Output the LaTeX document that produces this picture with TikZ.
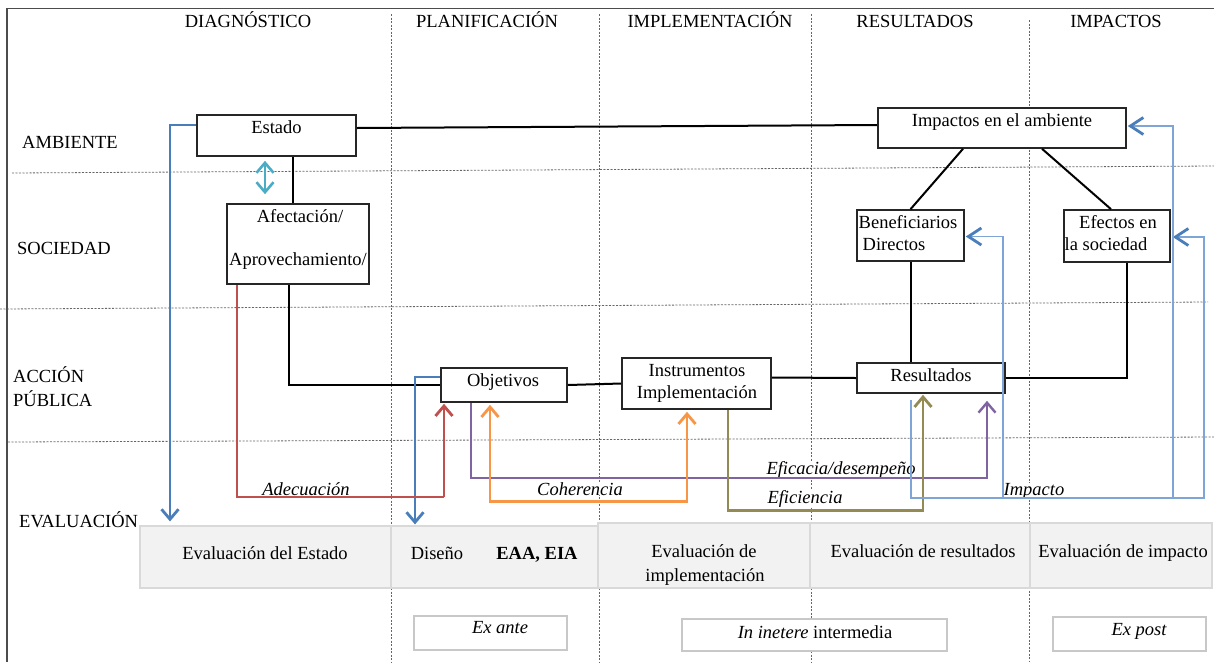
\documentclass[tikz,border=0pt]{standalone}
\usepackage{fontspec}
\setmainfont{Liberation Serif}
\usetikzlibrary{arrows.meta,calc}
\definecolor{cBlue}{HTML}{4A7EBB}
\definecolor{cLight}{HTML}{7FA5D6}
\definecolor{cCyan}{HTML}{4BACC6}
\definecolor{cRed}{HTML}{C0504D}
\definecolor{cOrange}{HTML}{F79646}
\definecolor{cPurple}{HTML}{8064A2}
\definecolor{cOlive}{HTML}{948A54}
\definecolor{bandfill}{HTML}{F2F2F2}
\definecolor{bandline}{HTML}{D9D9D9}
\definecolor{tagline}{HTML}{C8C8C8}
\newcommand\dgfont{\fontsize{18.5}{22}\selectfont}

\begin{document}
\begin{tikzpicture}[x=1pt,y=-1pt,
  txt/.style={font=\dgfont, inner sep=0pt, anchor=base},
  txtw/.style={txt, anchor=base west},
  lbl/.style={txt, font=\dgfont\itshape, fill=white},
  box/.style={draw=black!85, line width=1.6pt, fill=white, inner sep=0pt},
  cell/.style={draw=bandline, line width=1.2pt, fill=bandfill, inner sep=0pt},
  tag/.style={draw=tagline, line width=1.6pt, fill=white, inner sep=0pt},
  sepline/.style={black!60, line width=0.8pt, dash pattern=on 2pt off 1.5pt},
  link/.style={black, line width=2pt},
  barb/.style={-{Straight Barb[length=10pt,width=17pt]}},
  dbarb/.style={{Straight Barb[length=10pt,width=17pt]}-{Straight Barb[length=10pt,width=17pt]}},
  fback/.style={cLight, line width=1.4pt},
  fbarb/.style={-{Straight Barb[length=13pt,width=17pt,line width=2.8pt,color=cBlue]}},
]
\useasboundingbox (0,0) rectangle (1214,662);
\fill[white] (0,0) rectangle (1214,662);

% frame and grid of phases / domains
\draw[black!70, line width=1.6pt] (7,662) -- (7,8.5) -- (1214,8.5);
\draw[sepline] (391,14) -- (391,662);
\draw[sepline] (599,14) -- (599,662);
\draw[sepline] (811,14) -- (811,662);
\draw[sepline] (1029,20) -- (1029,662);
\draw[sepline] (12,173) -- (1214,166);
\draw[sepline] (0,309) -- (1208,302);
\draw[sepline] (8,442) -- (1214,437);

% column headings
\node[txt] (hdiag) at (248,27) {DIAGNÓSTICO};
\node[txt] (hplan) at (487,27) {PLANIFICACIÓN};
\node[txt] (himpl) at (710,27) {IMPLEMENTACIÓN};
\node[txt] (hres)  at (915,27) {RESULTADOS};
\node[txt] (himp)  at (1116,27) {IMPACTOS};

% row headings
\node[txtw] (ramb) at (22,148) {AMBIENTE};
\node[txtw] (rsoc) at (17,254) {SOCIEDAD};
\node[txtw] (racc1) at (13,382) {ACCIÓN};
\node[txtw] (racc2) at (13,406) {PÚBLICA};
\node[txtw] (reval) at (19,527) {EVALUACIÓN};

% evaluation band
\node[cell, minimum width=251pt, minimum height=62pt] (evestado) at (265.5,557) {};
\node[cell, minimum width=207pt, minimum height=62pt] (evdiseno) at (494.5,557) {};
\node[cell, minimum width=212pt, minimum height=65pt] (evimpl) at (704,555.5) {};
\node[cell, minimum width=220pt, minimum height=65pt] (evres) at (920,555.5) {};
\node[cell, minimum width=182pt, minimum height=65pt] (evimp) at (1121,555.5) {};
\node[txt] (tevestado) at (265,559) {Evaluación del Estado};
\node[txt] (tdiseno) at (437,559) {Diseño};
\node[txt] (teaa) at (537,559) {\bfseries EAA, EIA};
\node[txt] (tevimpl1) at (704,557) {Evaluación de};
\node[txt] (tevimpl2) at (705,581) {implementación};
\node[txt] (tevres) at (923,557) {Evaluación de resultados};
\node[txt] (tevimp) at (1123,557) {Evaluación de impacto};

% timing tags
\node[tag, minimum width=153pt, minimum height=34pt] (exante) at (490.5,633) {};
\node[tag, minimum width=265pt, minimum height=32pt] (inter) at (814.5,635) {};
\node[tag, minimum width=153pt, minimum height=34pt] (expost) at (1129.5,634) {};
\node[txt] (texante) at (500,633) {\itshape Ex ante};
\node[txt] (tinter) at (815,638) {\textit{In inetere} intermedia};
\node[txt] (texpost) at (1139,635) {\itshape Ex post};

% boxes
\node[box, minimum width=159pt, minimum height=41pt] (estado) at (276.5,135.5) {};
\node[box, minimum width=142pt, minimum height=80pt] (afect) at (298,244) {};
\node[box, minimum width=126pt, minimum height=34pt] (objetivos) at (504,385) {};
\node[box, minimum width=149pt, minimum height=51pt] (instr) at (696.5,383.5) {};
\node[box, minimum width=248pt, minimum height=40pt] (impactos) at (1002,128) {};
\node[box, minimum width=107pt, minimum height=51pt] (benef) at (910.5,235.5) {};
\node[box, minimum width=106pt, minimum height=52pt] (efectos) at (1117,236) {};
\node[box, minimum width=148pt, minimum height=30pt] (result) at (931,378) {};

\node[txt] (testado) at (276.5,133) {Estado};
\node[txt] (tafect1) at (300,222) {Afectación/};
\node[txt] (tafect2) at (298,265) {Aprovechamiento/};
\node[txt] (tobj) at (503,386) {Objetivos};
\node[txt] (tinstr1) at (697,376) {Instrumentos};
\node[txt] (tinstr2) at (697,398) {Implementación};
\node[txt] (timpactos) at (1002,126) {Impactos en el ambiente};
\node[txt] (tbenef1) at (908,228) {Beneficiarios};
\node[txt] (tbenef2) at (894,250) {Directos};
\node[txt] (tefect1) at (1118,228) {Efectos en};
\node[txt] (tefect2) at (1106,250) {la sociedad};
\node[txt] (tresult) at (931,381) {Resultados};

% evaluation criteria labels
\node[lbl] (ladec) at (306,495) {Adecuación};
\node[lbl] (lcoher) at (580,495) {Coherencia};
\node[lbl] (lefic) at (841,474) {Eficacia/desempeño};
\node[lbl] (leficien) at (805,503) {Eficiencia};
\node[lbl] (limpacto) at (1034,495) {Impacto};

% causal chain
\draw[link] ([yshift=7.5pt]estado.east) -- ([yshift=3pt]impactos.west);
\draw[link] ([xshift=16.5pt]estado.south) -- ([xshift=-5pt]afect.north);
\draw[link] ([xshift=-9pt]afect.south) |- (objetivos.west);
\draw[link] (objetivos.east) -- (instr.west);
\draw[link] ([yshift=6pt]instr.east) -- (result.west);
\draw[link] (result.north -| benef.south) -- (benef.south);
\draw[link] (result.east) -| ([xshift=10pt]efectos.south);
\draw[link] ([xshift=-39pt]impactos.south) -- (benef.north);
\draw[link] ([xshift=40pt]impactos.south) -- ([xshift=-6pt]efectos.north);

% state / society interaction
\draw[cCyan, line width=2.6pt, dbarb]
  ([xshift=-11.5pt,yshift=-4pt]estado.south) -- ([xshift=-33pt,yshift=9pt]afect.north);

% links down to the evaluation band
\draw[cBlue, line width=2.8pt, barb] ([yshift=10.5pt]estado.west) -| ([xshift=-95.5pt,yshift=4pt]evestado.north);
\draw[cBlue, line width=2.8pt, barb] ([yshift=8pt]objetivos.west) -| ([xshift=-79.5pt,yshift=1pt]evdiseno.north);

% adequacy
\coordinate (adcorner) at (444,497);
\draw[cRed, line width=1.3pt] ([xshift=-61pt]afect.south) |- (adcorner);
\draw[cRed, line width=2.8pt, barb] (adcorner) -- ([xshift=-60pt,yshift=-1pt]objetivos.south);

% effectiveness
\draw[cPurple, line width=2.4pt, barb] ([xshift=-33pt]objetivos.south)
  |- ([xshift=56pt,yshift=-84pt]result.south) -- ([xshift=56pt,yshift=-7pt]result.south);

% coherence
\draw[cOrange, line width=2.8pt, dbarb]
  ([xshift=-14pt,yshift=-2pt]objetivos.south)
  |- ([xshift=-9.5pt,yshift=-92pt]instr.south) -- ([xshift=-9.5pt,yshift=-2pt]instr.south);

% efficiency
\draw[cOlive, line width=2.8pt, barb] ([xshift=31.5pt]instr.south)
  |- ([xshift=-8pt,yshift=-117pt]result.south) -- ([xshift=-8pt,yshift=-1pt]result.south);

% impact feedback
\draw[fback, fbarb] ([xshift=-20pt,yshift=-6pt]result.south)
  |- ([xshift=33pt,yshift=-262pt]efectos.east) -- ([xshift=33pt,yshift=-1pt]efectos.east)
  -- ([xshift=2pt,yshift=-1pt]efectos.east);
\draw[fback, fbarb] ([xshift=46pt,yshift=-369pt]impactos.east) -- ([xshift=46pt,yshift=2pt]impactos.east)
  -- ([xshift=1pt,yshift=2pt]impactos.east);
\draw[fback, fbarb] ([xshift=38pt,yshift=-262pt]benef.east) -- ([xshift=38pt,yshift=-1pt]benef.east)
  -- ([xshift=1pt,yshift=-1pt]benef.east);
\end{tikzpicture}
\end{document}
